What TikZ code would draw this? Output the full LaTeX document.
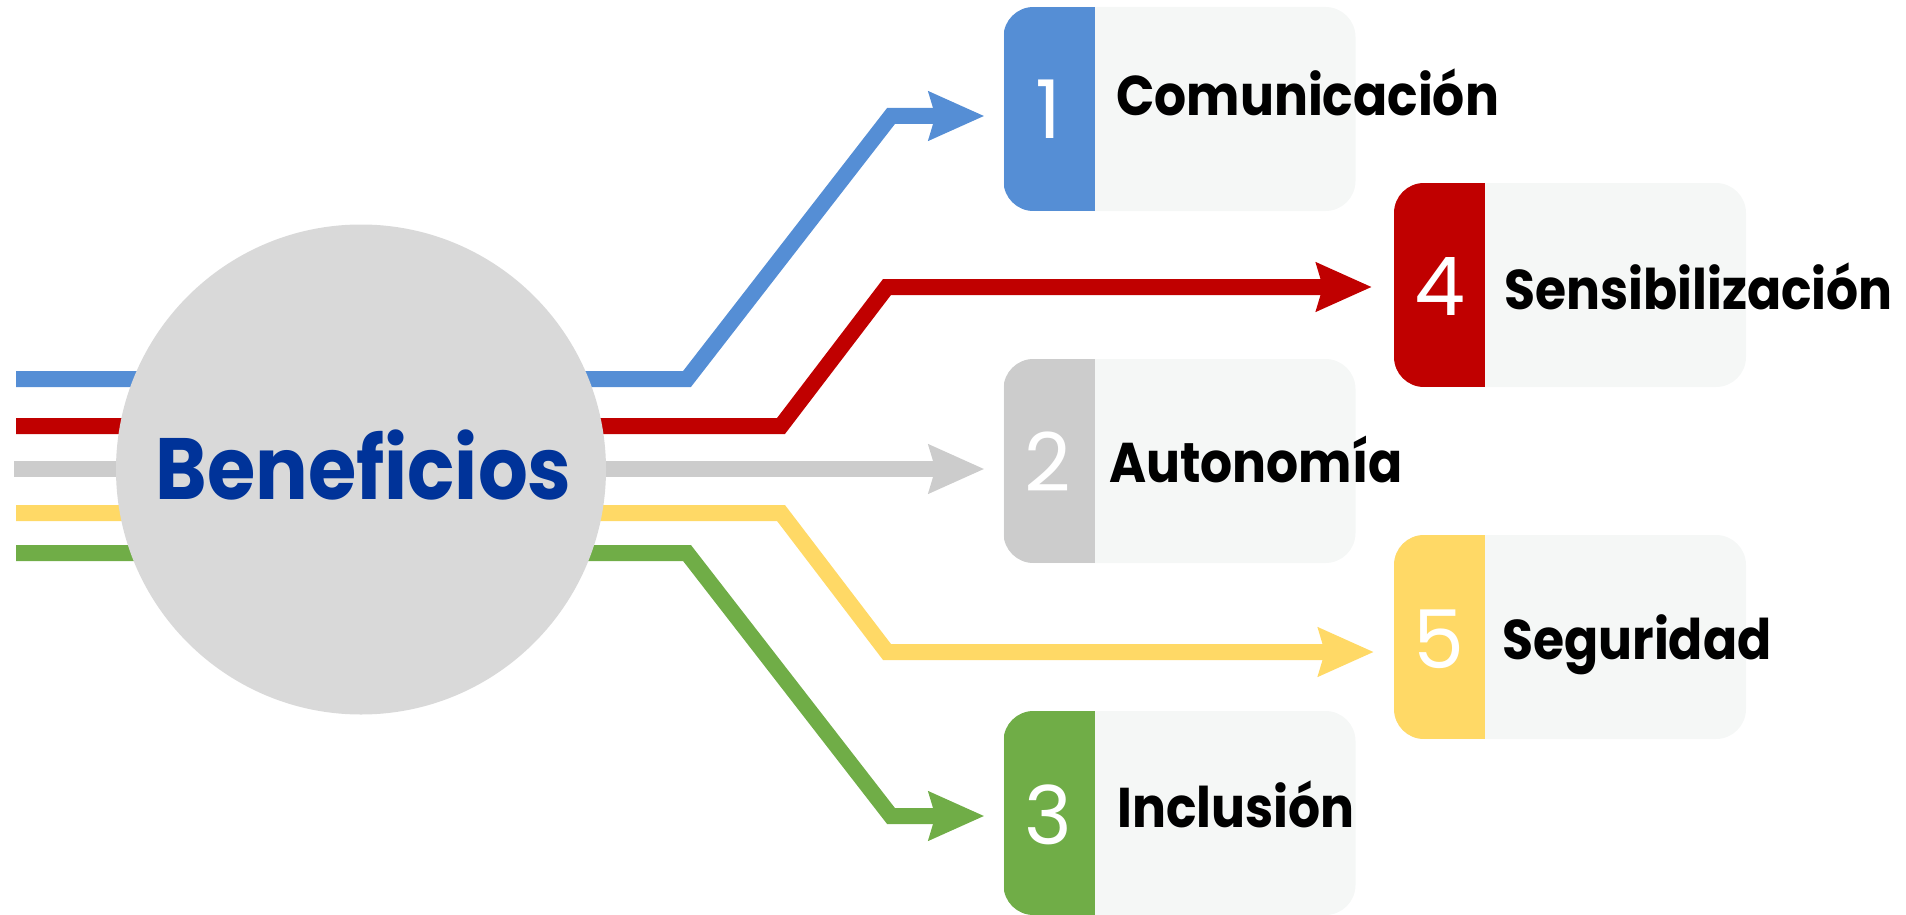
\documentclass[tikz,border=0pt]{standalone}
\usepackage{fontspec}
\setmainfont{Poppins}
\newfontfamily\lblfont{Poppins}[FakeStretch=0.9]
\usepackage{tikz}
\usetikzlibrary{arrows.meta,calc}
\definecolor{cblue}{HTML}{558ED5}
\definecolor{cred}{HTML}{C00000}
\definecolor{cgrey}{HTML}{CCCCCC}
\definecolor{cyellow}{HTML}{FFD966}
\definecolor{cgreen}{HTML}{70AD47}
\definecolor{boxfill}{HTML}{F5F7F6}
\definecolor{circfill}{HTML}{D9D9D9}
\definecolor{titleblue}{HTML}{003399}
\begin{document}
\begin{tikzpicture}[x=1pt, y=-1pt,
    box/.style = {rounded corners=30pt, fill=boxfill, minimum width=352pt, minimum height=204pt, inner sep=0pt, outer sep=0pt,
      path picture={\fill[#1, sharp corners] (path picture bounding box.north west) rectangle ([xshift=91pt]path picture bounding box.south west);}},
    num/.style = {anchor=base, inner sep=0pt, text=white, font=\fontsize{81}{81}\selectfont},
    lbl/.style = {anchor=base west, inner sep=0pt, font=\fontsize{56}{56}\lblfont\bfseries},
    link/.style = {line width=16pt, -{Stealth[length=55pt,width=47pt,inset=6pt]}}]
      \useasboundingbox (0,0) rectangle (1906,915);
      \node[box=cblue] (b1) at (1179.5,109) {};
      \node[box=cred] (b4) at (1570,285) {};
      \node[box=cgrey] (b2) at (1179.5,461) {};
      \node[box=cyellow] (b5) at (1570,637) {};
      \node[box=cgreen] (b3) at (1179.5,813) {};

      \node[num] (n1) at (1048,139) {1};
      \node[num] (n4) at (1440,315) {4};
      \node[num] (n2) at (1048,491) {2};
      \node[num] (n5) at (1439,668) {5};
      \node[num] (n3) at (1048,844) {3};

      \node[lbl] (l1) at (1116,116) {Comunicación};
      \node[lbl] (l4) at (1504,309) {Sensibilización};
      \node[lbl] (l2) at (1109,482) {Autonomía};
      \node[lbl] (l5) at (1502,659) {Seguridad};
      \node[lbl] (l3) at (1117,827) {Inclusión};

      \coordinate (s1) at (16,379);
      \coordinate (s4) at (16,426);
      \coordinate (s2) at (14,469);
      \coordinate (s5) at (16,513);
      \coordinate (s3) at (16,553);

      \draw[link, cblue] (s1) -- (687,379) -- (891,116) -- ($(b1.west)+(-19,7)$);
      \draw[link, cred] (s4) -- (781,426) -- (887,287) -- ($(b4.west)+(-22,2)$);
      \draw[link, cgrey] (s2) -- ($(b2.west)+(-19,8)$);
      \draw[link, cyellow] (s5) -- (781,513) -- (887,652) -- ($(b5.west)+(-20,15)$);
      \draw[link, cgreen] (s3) -- (687,553) -- (891,816) -- ($(b3.west)+(-19,3)$);

      \node[circle, fill=circfill, minimum size=490pt, inner sep=0pt] (ben) at (361,469.5) {};
      \node[anchor=base, inner sep=0pt, text=titleblue, font=\fontsize{87}{87}\lblfont\bfseries] (title) at (363.5,499) {Beneficios};
    \end{tikzpicture}
\end{document}
